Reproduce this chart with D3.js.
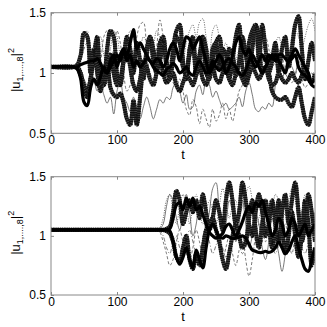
<!DOCTYPE html>
<html><head><meta charset="utf-8">
<script src="https://cdn.jsdelivr.net/npm/d3@7"></script>
<style>html,body{margin:0;padding:0;background:#fff;}svg{display:block;font-family:"Liberation Sans",Arial,sans-serif;}</style>
</head><body>
<svg id="c" width="327" height="327"></svg>
<script>
// ---------- data ----------
const xTicks = [0, 100, 200, 300, 400];
const yTicks = [0.5, 1, 1.5];
const yTickLabels = ["0.5", "1", "1.5"];
const xDomain = [0, 400];
const yDomain = [0.5, 1.5];

// time stamps (top: flat until 35, then every 5; bottom: flat until 160, then every 5)
const tTop = [0, 35].concat(d3.range(40, 401, 5));
const tBottom = [0].concat(d3.range(160, 401, 5));

// top panel series (|u_n|^2)
const top1 = [1.05,1.05,
 1.07,1.15,1.33,1.30,1.00,1.15,1.30,1.00,0.95,1.20,
 1.35,1.30,1.00,0.90,1.10,1.30,1.20,1.00,1.25,1.10,
 0.95,1.20,1.30,1.10,1.00,1.25,1.30,1.05,0.95,1.20,
 1.35,1.40,1.10,0.95,1.20,1.30,1.05,1.15,1.30,1.00,
 0.95,1.20,1.25,1.05,1.20,1.15,0.95,1.10,1.30,1.40,
 1.05,0.95,1.25,1.35,1.40,1.10,1.40,1.20,1.00,1.10,
 1.25,1.00,1.20,1.30,1.05,1.20,1.40,1.47,1.20,0.95,
 1.10,1.25,1.10];
const top2 = [1.05,1.05,
 1.03,0.95,0.76,0.73,0.88,0.95,0.90,0.97,1.05,1.00,
 1.10,1.15,1.05,1.15,1.20,1.15,1.25,1.36,1.20,1.25,
 1.20,1.15,1.10,1.08,1.12,1.10,1.05,1.10,1.20,1.25,
 1.20,1.10,1.20,1.30,1.28,1.20,1.25,1.30,1.20,1.10,
 1.00,1.05,1.10,1.15,1.10,1.00,1.05,1.15,1.25,1.30,
 1.20,1.15,1.20,1.10,1.05,1.10,1.15,1.10,1.15,1.12,
 1.15,1.10,1.05,1.00,1.10,1.15,1.20,1.15,1.10,1.05,
 1.00,0.92,0.95];
const top3 = [1.05,1.05,
 1.05,1.07,1.08,1.09,1.10,1.10,1.12,1.08,1.02,1.00,
 1.05,1.10,1.15,1.10,1.20,1.10,1.15,1.05,1.10,1.05,
 1.08,1.12,1.10,1.05,1.02,1.00,0.98,1.03,1.05,1.08,
 1.05,1.00,1.02,1.05,1.00,0.98,1.05,1.10,1.05,1.00,
 1.02,1.10,1.05,1.02,1.05,1.10,1.12,1.08,1.05,1.00,
 0.98,1.02,1.10,1.15,1.10,1.05,1.00,1.05,1.10,1.15,
 1.10,1.15,1.15,1.12,1.10,1.12,1.15,1.05,1.00,0.98,
 0.95,0.90,0.88];
const top4 = [1.05,1.05,
 1.05,1.00,0.85,0.80,0.95,1.20,1.00,0.85,1.00,1.10,
 0.88,0.82,0.80,0.83,0.75,0.62,0.57,0.77,0.57,0.80,
 1.05,1.15,1.30,1.20,1.05,1.10,1.25,1.10,0.98,1.10,
 1.30,1.25,1.05,1.00,1.15,1.20,1.00,1.10,1.30,1.20,
 1.00,1.10,1.25,1.30,1.10,1.00,1.20,1.15,0.98,1.10,
 1.30,1.15,1.00,1.20,1.40,1.30,1.00,1.05,1.00,0.85,
 0.80,0.78,0.78,0.80,0.75,0.72,0.80,0.88,0.75,0.62,
 0.57,0.68,0.80];
const top5 = [1.05,1.05,
 1.05,1.02,0.95,0.90,1.00,0.95,0.85,0.90,0.82,0.75,
 0.80,0.66,0.85,0.93,0.80,0.75,0.68,0.80,0.70,0.62,
 0.72,0.80,0.72,0.62,0.70,0.78,0.75,0.80,0.78,0.88,
 0.92,0.85,0.75,0.82,0.70,0.72,0.85,0.90,0.82,0.95,
 0.90,0.80,0.85,0.78,0.72,0.75,0.70,0.72,0.75,0.80,
 0.72,0.85,0.92,0.82,0.70,0.68,0.72,0.70,0.75,0.72,
 0.90,1.00,0.95,1.05,1.10,1.05,1.00,1.10,1.05,1.00,
 0.95,0.90,0.95];
const top6 = [1.05,1.05,
 1.05,1.10,1.20,1.25,1.05,1.20,1.25,1.10,1.30,1.35,
 1.10,1.20,1.35,1.25,1.00,0.85,0.90,1.10,1.30,1.40,
 1.42,1.20,1.00,0.95,1.20,1.44,1.30,1.10,1.00,0.92,
 0.88,0.95,0.85,0.70,0.65,0.78,0.72,0.58,0.70,0.62,
 0.55,0.70,0.60,0.65,0.75,0.62,0.70,0.60,0.72,0.85,
 0.90,1.00,1.20,1.30,1.25,1.10,1.20,1.30,1.20,1.05,
 1.10,1.20,1.15,1.00,0.95,0.92,0.98,1.05,0.95,0.88,
 0.92,1.00,0.95];
const top7 = [1.05,1.05,
 1.06,1.12,1.30,1.35,1.15,1.05,1.25,1.30,1.15,1.05,
 1.20,1.35,1.30,1.15,1.10,1.25,1.35,1.30,1.15,1.20,
 1.30,1.25,1.10,1.20,1.35,1.30,1.15,1.05,1.10,1.20,
 1.30,1.20,1.10,1.25,1.35,1.40,1.30,1.42,1.45,1.30,
 1.15,1.35,1.40,1.30,1.20,1.25,1.10,1.00,1.10,1.20,
 1.30,1.25,1.15,1.05,1.10,1.20,1.15,1.05,1.10,1.20,
 1.25,1.30,1.20,1.10,1.15,1.30,1.35,1.30,1.20,1.30,
 1.40,1.45,1.35];
const top8 = [1.05,1.05,
 1.04,0.98,0.90,0.85,0.95,1.10,1.05,0.92,0.90,1.05,
 1.15,1.00,0.90,0.95,1.10,1.20,1.05,0.90,0.85,0.95,
 1.10,1.05,0.95,0.90,1.00,1.10,1.00,0.92,0.95,1.00,
 0.90,0.85,0.92,0.98,0.95,0.90,0.98,1.05,0.95,0.90,
 0.98,1.05,0.95,0.92,1.00,1.05,0.95,0.90,0.98,1.00,
 0.95,0.90,0.98,1.05,1.00,0.95,1.00,1.05,0.95,0.90,
 0.92,1.00,0.95,0.92,0.95,1.00,0.95,0.92,0.98,1.02,
 0.95,0.92,1.00];

// bottom panel series
const bot1 = [1.05,
 1.05,1.05,1.05,1.05,1.06,1.15,1.26,1.28,1.22,1.32,
 1.25,1.32,1.22,1.25,1.18,1.10,1.03,1.00,0.98,0.99,
 0.98,1.00,0.99,0.98,0.98,0.99,1.00,0.98,0.93,0.88,
 0.87,0.86,0.86,0.87,0.86,0.87,0.90,0.95,0.90,0.85,
 0.88,0.95,1.00,0.90,0.80,0.72,0.70,0.80,0.90];
const bot2 = [1.05,
 1.05,1.05,1.05,1.05,1.04,0.95,0.82,0.76,0.82,0.90,
 0.80,0.73,0.88,0.80,0.73,0.90,1.05,1.10,1.05,1.00,
 1.02,1.08,1.10,1.05,1.00,1.05,1.12,1.20,1.25,1.20,
 1.28,1.25,1.30,1.20,1.10,1.00,1.05,1.15,1.10,1.00,
 1.05,1.15,1.10,1.00,1.05,1.10,1.00,1.05,1.10];
const bot3 = [1.05,
 1.05,1.05,1.05,1.06,1.08,1.20,1.38,1.30,1.10,1.20,
 1.30,1.20,1.30,1.15,1.35,1.20,1.05,1.15,1.30,1.20,
 1.05,1.30,1.45,1.30,1.10,1.20,1.45,1.30,1.10,1.00,
 1.20,1.35,1.20,1.00,1.10,1.30,1.10,0.95,1.20,1.35,
 1.10,1.30,1.45,1.20,0.95,1.10,1.35,1.20,0.95];
const bot4 = [1.05,
 1.05,1.05,1.05,1.04,1.02,0.95,0.82,0.78,0.90,1.00,
 0.80,0.72,0.85,0.75,0.90,1.05,1.10,1.15,1.05,0.95,
 0.80,0.72,0.85,1.00,1.10,1.00,0.90,0.95,1.15,1.30,
 1.05,0.90,1.10,1.30,1.10,0.90,1.05,1.30,1.10,0.85,
 1.00,1.20,1.00,0.82,1.00,1.30,1.10,0.75,0.90];
const bot5 = [1.05,
 1.05,1.06,1.10,1.25,1.35,1.30,1.15,1.05,1.20,1.35,
 1.20,1.00,1.10,1.30,1.20,1.05,1.20,1.40,1.45,1.20,
 1.00,1.10,1.30,1.20,0.95,1.10,1.30,1.10,0.90,1.00,
 1.20,1.10,0.90,0.80,0.95,1.15,1.00,0.85,0.70,0.85,
 1.10,1.20,0.95,0.85,1.00,1.20,1.10,1.00,1.20];
const bot6 = [1.05,
 1.05,1.03,0.95,0.85,0.75,0.80,0.95,1.05,0.95,0.85,
 0.80,0.90,1.05,0.95,0.82,0.95,1.10,1.20,1.05,0.90,
 0.80,0.90,1.00,0.85,0.75,0.88,1.00,0.80,0.66,0.80,
 1.00,1.10,1.05,0.95,1.10,1.20,1.05,0.90,1.00,1.10,
 0.95,0.85,1.00,1.10,0.95,1.00,1.15,1.05,0.95];
const bot7 = [1.05,
 1.05,1.07,1.15,1.30,1.35,1.20,1.10,1.25,1.35,1.25,
 1.10,1.25,1.35,1.20,1.10,1.20,1.30,1.20,1.10,1.25,
 1.40,1.30,1.15,1.25,1.30,1.15,1.25,1.35,1.42,1.30,
 1.10,1.15,1.25,1.20,1.10,1.20,1.35,1.30,1.15,1.20,
 1.30,1.40,1.30,1.15,1.20,1.35,1.30,1.15,1.20];
const bot8 = [1.05,
 1.05,1.04,1.00,0.90,0.85,0.95,1.00,0.90,0.85,0.95,
 1.05,0.95,0.85,0.80,0.95,1.05,0.95,0.85,0.92,1.00,
 0.90,0.82,0.90,1.00,1.05,0.95,0.85,0.90,1.00,1.10,
 1.00,0.90,0.95,1.05,1.00,0.92,0.85,0.95,1.05,0.95,
 0.88,0.95,1.05,1.00,0.90,0.85,0.95,1.05,1.00];

// line style per series index (1..8)
const styleNames = ["marker","thick","thick","marker","thin","dashed","dotted","marker"];
const styleNamesBottom = ["thick","thick","marker","marker","thin","dashed","dotted","dashdot"];

// ---------- drawing ----------
const svg = d3.select("#c");
const L = 51, R = 315;
const panels = [
  {top: 12.7, bottom: 133.3, t: tTop, series: [top1,top2,top3,top4,top5,top6,top7,top8], styles: styleNames},
  {top: 176.7, bottom: 295, t: tBottom, series: [bot1,bot2,bot3,bot4,bot5,bot6,bot7,bot8], styles: styleNamesBottom}
];
const styleDef = {
  thin:   {stroke:"#555", width:0.8, dash:null},
  dashed: {stroke:"#555", width:0.8, dash:"3,2"},
  dotted: {stroke:"#555", width:0.9, dash:"1,1.4"},
  dashdot:{stroke:"#555", width:0.8, dash:"4,2,1,2"},
  marker: {stroke:"#111", width:4.2, dash:"1.6,0.6"},
  thick:  {stroke:"#000", width:3.2, dash:null}
};
const order = ["thin","dashed","dotted","dashdot","marker","thick"];

panels.forEach(p => {
  const x = d3.scaleLinear().domain(xDomain).range([L, R]);
  const y = d3.scaleLinear().domain(yDomain).range([p.bottom, p.top]);
  const g = svg.append("g");
  const clipId = "clip" + Math.round(p.top);
  svg.append("clipPath").attr("id", clipId).append("rect")
    .attr("x", L).attr("y", p.top).attr("width", R - L).attr("height", p.bottom - p.top);
  const line = d3.line().x((d,i) => x(p.t[i])).y(d => y(d)).curve(d3.curveCatmullRom.alpha(0.5));
  const lg = g.append("g").attr("clip-path", `url(#${clipId})`);
  order.forEach(sn => {
    p.series.forEach((s, k) => {
      if (p.styles[k] !== sn) return;
      const st = styleDef[sn];
      if (sn === "marker") {
        lg.append("path").attr("d", line(s)).attr("fill","none")
          .attr("stroke","#555").attr("stroke-width", st.width - 0.6).attr("stroke-linejoin","round");
      }
      lg.append("path").attr("d", line(s)).attr("fill","none")
        .attr("stroke", st.stroke).attr("stroke-width", st.width)
        .attr("stroke-dasharray", st.dash).attr("stroke-linejoin","round");
    });
  });
  // frame
  g.append("rect").attr("x", L).attr("y", p.top).attr("width", R - L).attr("height", p.bottom - p.top)
    .attr("fill","none").attr("stroke","#888").attr("stroke-width",1);
  // axes
  const ax = g.append("g").attr("transform", `translate(0,${p.bottom})`)
    .call(d3.axisBottom(x).tickValues(xTicks).tickSizeInner(-3).tickSizeOuter(0).tickPadding(2));
  const axT = g.append("g").attr("transform", `translate(0,${p.top})`)
    .call(d3.axisTop(x).tickValues(xTicks).tickSizeInner(-3).tickSizeOuter(0).tickFormat(""));
  const ay = g.append("g").attr("transform", `translate(${L},0)`)
    .call(d3.axisLeft(y).tickValues(yTicks).tickSizeInner(-3).tickSizeOuter(0).tickPadding(5)
      .tickFormat((d,i) => yTickLabels[i]));
  const ayR = g.append("g").attr("transform", `translate(${R},0)`)
    .call(d3.axisRight(y).tickValues(yTicks).tickSizeInner(-3).tickSizeOuter(0).tickFormat(""));
  [ax, axT, ay, ayR].forEach(a => {
    a.select(".domain").remove();
    a.selectAll(".tick line").attr("stroke","#888");
    a.selectAll("text").attr("font-size", 12).attr("fill","#000")
      .attr("font-family", "'Liberation Sans', Arial, sans-serif");
  });
  // x label
  g.append("text").attr("x", (L + R) / 2).attr("y", p.bottom + 26)
    .attr("text-anchor","middle").attr("font-size", 13).text("t");
  // y label
  const yl = g.append("text").attr("transform", `translate(20,${(p.top + p.bottom) / 2 - 3}) rotate(-90)`)
    .attr("text-anchor","middle").attr("font-size", 13);
  yl.append("tspan").text("|u");
  yl.append("tspan").attr("font-size", 9).attr("dy", 3).text("1,....,8");
  yl.append("tspan").attr("dy", -3).text("|");
  yl.append("tspan").attr("font-size", 9).attr("dy", -6).text("2");
});
</script>
</body></html>
